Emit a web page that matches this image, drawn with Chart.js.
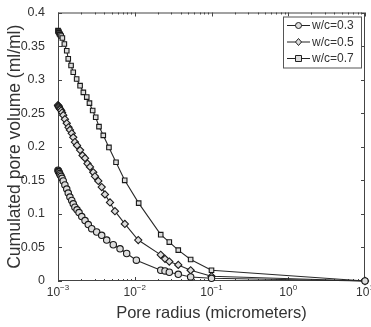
<!DOCTYPE html>
<html>
<head>
<meta charset="utf-8">
<script src="https://cdn.jsdelivr.net/npm/chart.js@4.4.1/dist/chart.umd.min.js"></script>
<style>
    html, body { margin: 0; padding: 0; background: #fff; }
</style>
</head>
<body>
<canvas id="poreChart" width="371" height="327"></canvas>
<script>
// pore radius (micrometers) and cumulated pore volume (ml/ml)
const radius03 = [0.00100, 0.00101, 0.00102, 0.00103, 0.00105, 0.00107, 0.00110, 0.00113, 0.00117, 0.00123, 0.00130, 0.00136, 0.00143, 0.00151, 0.00158, 0.00166, 0.00177, 0.00188, 0.00204, 0.00225, 0.00248, 0.00275, 0.00319, 0.00371, 0.00431, 0.00525, 0.00643, 0.00785, 0.0105, 0.0218, 0.0248, 0.0282, 0.0369, 0.0535, 0.1, 10];
const volume03 = [0.165, 0.164, 0.163, 0.162, 0.160, 0.158, 0.156, 0.153, 0.149, 0.143, 0.137, 0.131, 0.125, 0.120, 0.115, 0.110, 0.106, 0.102, 0.096, 0.090, 0.084, 0.078, 0.073, 0.068, 0.061, 0.054, 0.048, 0.041, 0.031, 0.016, 0.015, 0.013, 0.010, 0.006, 0.004, 0];

const radius05 = [0.00100, 0.00101, 0.00102, 0.00103, 0.00105, 0.00107, 0.00110, 0.00113, 0.00117, 0.00123, 0.00130, 0.00137, 0.00143, 0.00151, 0.00158, 0.00166, 0.00177, 0.00194, 0.00209, 0.00225, 0.00242, 0.00261, 0.00288, 0.00303, 0.00335, 0.00371, 0.00409, 0.00476, 0.00552, 0.00743, 0.0111, 0.0218, 0.0248, 0.0282, 0.0369, 0.0535, 0.1, 10];
const volume05 = [0.262, 0.261, 0.260, 0.259, 0.257, 0.256, 0.254, 0.251, 0.247, 0.241, 0.235, 0.229, 0.225, 0.220, 0.214, 0.207, 0.202, 0.195, 0.187, 0.183, 0.175, 0.170, 0.162, 0.156, 0.149, 0.140, 0.129, 0.117, 0.104, 0.085, 0.061, 0.039, 0.033, 0.029, 0.024, 0.016, 0.007, 0];

const radius07 = [0.00100, 0.00101, 0.00102, 0.00103, 0.00105, 0.00107, 0.00110, 0.00114, 0.00121, 0.00130, 0.00136, 0.00148, 0.00158, 0.00175, 0.00194, 0.00214, 0.00237, 0.00257, 0.00283, 0.00310, 0.00342, 0.00389, 0.00461, 0.00570, 0.00740, 0.01125, 0.0218, 0.0282, 0.0369, 0.0535, 0.1, 10];
const volume07 = [0.373, 0.372, 0.371, 0.370, 0.368, 0.367, 0.365, 0.362, 0.353, 0.343, 0.331, 0.321, 0.311, 0.301, 0.291, 0.281, 0.274, 0.265, 0.254, 0.244, 0.230, 0.217, 0.199, 0.177, 0.150, 0.116, 0.069, 0.058, 0.046, 0.032, 0.016, 0];

const seriesNames = ['w/c=0.3', 'w/c=0.5', 'w/c=0.7'];
const markers = ['circle', 'rectRot', 'rect'];
const decades = [-3, -2, -1, 0, 1];

const FONT = '"Liberation Sans", Arial, sans-serif';
const INK = '#333';

function toPoints(xs, ys) {
    return xs.map((x, i) => ({ x: x, y: ys[i] }));
}

function drawMarker(ctx, style, x, y) {
    ctx.beginPath();
    if (style === 'circle') {
        ctx.arc(x, y, 3, 0, Math.PI * 2);
    } else if (style === 'rectRot') {
        ctx.moveTo(x, y - 3.5); ctx.lineTo(x + 3, y); ctx.lineTo(x, y + 3.5); ctx.lineTo(x - 3, y); ctx.closePath();
    } else {
        ctx.rect(x - 3, y - 3, 6, 6);
    }
    ctx.fill();
    ctx.stroke();
}

// matlab style box, inward ticks, 10^n labels and the boxed legend
const matlabAxes = {
    id: 'matlabAxes',
    beforeDatasetsDraw(chart) {
        const { ctx, chartArea: a, scales: { x, y } } = chart;
        ctx.save();
        ctx.strokeStyle = '#444';
        ctx.lineWidth = 1;
        ctx.strokeRect(a.left + 0.5, a.top + 0.5, a.right - a.left - 1, a.bottom - a.top - 1);
        ctx.beginPath();
        y.ticks.forEach(t => {
            const py = Math.round(y.getPixelForValue(t.value)) + 0.5;
            ctx.moveTo(a.left, py); ctx.lineTo(a.left + 4, py);
            ctx.moveTo(a.right, py); ctx.lineTo(a.right - 4, py);
        });
        decades.forEach(d => {
            for (let k = 1; k < 10; k++) {
                const v = k * Math.pow(10, d);
                if (v > x.max * 1.0001) break;
                const px = Math.round(x.getPixelForValue(v)) + 0.5;
                const len = k === 1 ? 4 : 2;
                ctx.moveTo(px, a.bottom); ctx.lineTo(px, a.bottom - len);
                ctx.moveTo(px, a.top); ctx.lineTo(px, a.top + len);
            }
        });
        ctx.stroke();

        ctx.fillStyle = INK;
        ctx.textBaseline = 'alphabetic';
        ctx.textAlign = 'left';
        decades.forEach(d => {
            const px = x.getPixelForValue(Math.pow(10, d));
            const base = '10', sup = String(d).replace('-', '\u2212');
            ctx.font = '12px ' + FONT;
            const w1 = ctx.measureText(base).width;
            ctx.font = '8px ' + FONT;
            const w2 = ctx.measureText(sup).width;
            const start = px - (w1 + w2) / 2;
            ctx.font = '12px ' + FONT;
            ctx.fillText(base, start, a.bottom + 15);
            ctx.font = '8px ' + FONT;
            ctx.fillText(sup, start + w1, a.bottom + 9);
        });
        ctx.restore();
    },
    afterDraw(chart) {
        const { ctx, chartArea: a } = chart;
        const x0 = a.right - 82, y0 = a.top + 4, w = 78, h = 51;
        ctx.save();
        ctx.fillStyle = '#fff';
        ctx.fillRect(x0, y0, w, h);
        ctx.strokeStyle = '#555';
        ctx.lineWidth = 1;
        ctx.strokeRect(x0 + 0.5, y0 + 0.5, w, h);
        chart.data.datasets.forEach((ds, i) => {
            const cy = y0 + 9 + i * 16.5;
            ctx.strokeStyle = '#222';
            ctx.beginPath();
            ctx.moveTo(x0 + 4, cy); ctx.lineTo(x0 + 27, cy);
            ctx.stroke();
            ctx.fillStyle = '#ddd';
            drawMarker(ctx, ds.pointStyle, x0 + 15.5, cy);
            ctx.fillStyle = INK;
            ctx.font = '12px ' + FONT;
            ctx.textAlign = 'left';
            ctx.textBaseline = 'middle';
            ctx.fillText(ds.label, x0 + 29, cy + 0.5);
        });
        ctx.restore();
    }
};

const seriesData = [
    toPoints(radius03, volume03),
    toPoints(radius05, volume05),
    toPoints(radius07, volume07)
];

new Chart(document.getElementById('poreChart'), {
    type: 'line',
    data: {
        datasets: seriesData.map((pts, i) => ({
            label: seriesNames[i],
            data: pts,
            borderColor: '#2a2a2a',
            borderWidth: 1.1,
            pointStyle: markers[i],
            pointRadius: markers[i] === 'rectRot' ? 3.6 : 3.2,
            pointBackgroundColor: '#ddd',
            pointBorderColor: '#1a1a1a',
            pointBorderWidth: 1.1,
            tension: 0,
            clip: false
        }))
    },
    options: {
        responsive: false,
        animation: false,
        layout: { padding: { top: 12, right: 6, left: 0, bottom: 0 } },
        plugins: { legend: { display: false }, tooltip: { enabled: false } },
        scales: {
            x: {
                type: 'logarithmic',
                min: 0.001,
                max: 10,
                grid: { display: false },
                border: { display: false },
                ticks: { display: false },
                title: {
                    display: true,
                    text: 'Pore radius (micrometers)',
                    color: INK,
                    font: { family: FONT, size: 16.5 },
                    padding: { top: 0, bottom: 4 }
                },
                afterFit(scale) { scale.height = 46; }
            },
            y: {
                min: 0,
                max: 0.4,
                grid: { display: false },
                border: { display: false },
                ticks: {
                    stepSize: 0.05,
                    color: INK,
                    padding: 5,
                    font: { family: FONT, size: 12.5 },
                    callback: (v) => String(+v.toFixed(2))
                },
                title: {
                    display: true,
                    text: 'Cumulated pore volume (ml/ml)',
                    color: INK,
                    font: { family: FONT, size: 17.5 },
                    padding: { top: 5, bottom: 0 }
                },
                afterFit(scale) { scale.width = 58; }
            }
        }
    },
    plugins: [matlabAxes]
});
</script>
</body>
</html>
